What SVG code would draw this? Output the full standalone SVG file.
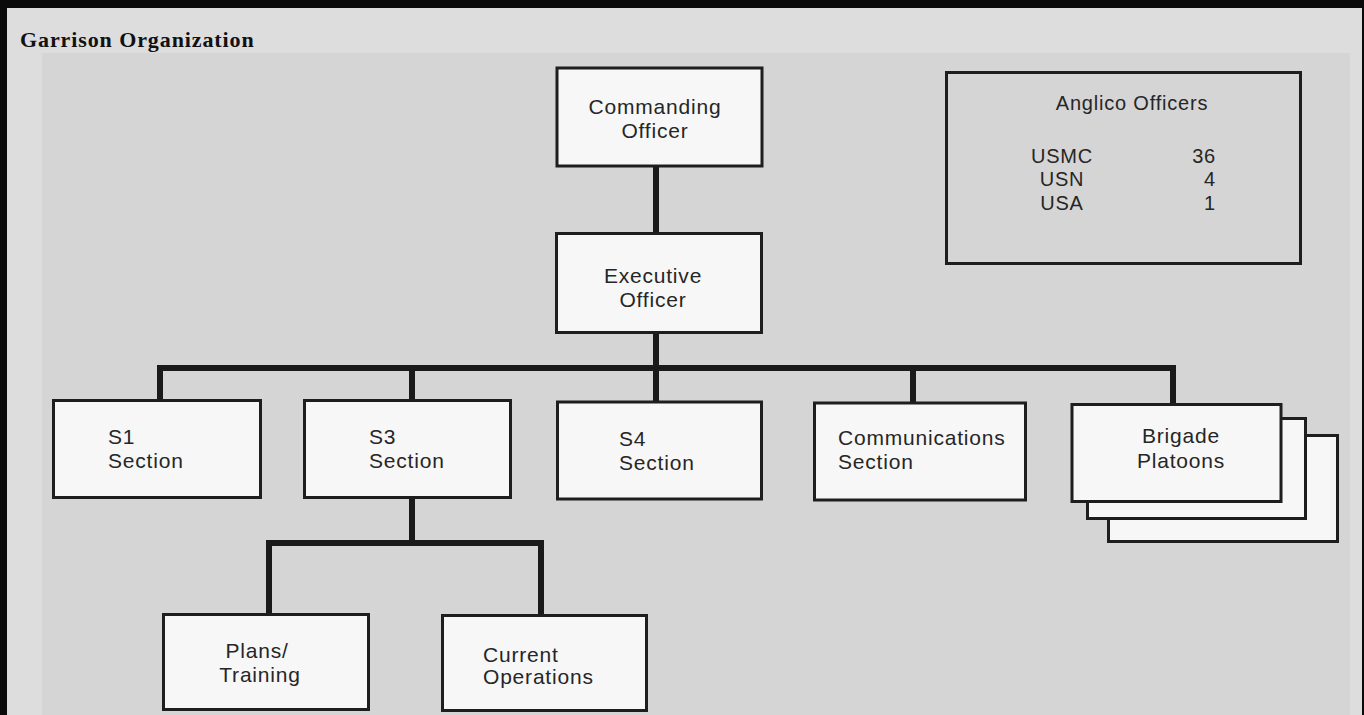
<svg xmlns="http://www.w3.org/2000/svg" width="1364" height="715" viewBox="0 0 1364 715">
  <defs>
    <style>
      .box { fill: #f7f7f7; stroke: #1e1e1e; stroke-width: 3; }
      .open { fill: none; stroke: #1e1e1e; stroke-width: 3; }
      .lbl { font-family: "Liberation Sans", Arial, Helvetica, sans-serif; font-size: 21px; letter-spacing: 0.8px; fill: #262626; }
      .sm { font-size: 20px; }
      .mid { text-anchor: middle; }
      .end { text-anchor: end; }
      .conn { fill: none; stroke: #1a1a1a; stroke-width: 6; stroke-linejoin: miter; stroke-linecap: butt; }
      .title { font-family: "Liberation Serif", "Times New Roman", serif; font-weight: bold; font-size: 22px; letter-spacing: 0.9px; fill: #111; }
    </style>
  </defs>

  <!-- page frame -->
  <rect x="0" y="0" width="1364" height="715" fill="#dddddd"/>
  <rect x="42" y="53" width="1308" height="662" fill="#d5d5d5"/>
  <rect x="0" y="0" width="1364" height="8" fill="#0a0a0a"/>
  <rect x="0" y="0" width="7" height="715" fill="#0a0a0a"/>
  <rect x="1362" y="0" width="2" height="715" fill="#0a0a0a"/>

  <text class="title" x="20" y="47">Garrison Organization</text>

  <!-- connectors -->
  <g id="connectors">
    <path class="conn" d="M656 167 V232"/>
    <path class="conn" d="M656 334 V401"/>
    <path class="conn" d="M160 399 V368 H1173 V403"/>
    <path class="conn" d="M412 368 V399"/>
    <path class="conn" d="M913 368 V402"/>
    <path class="conn" d="M412 498 V543"/>
    <path class="conn" d="M269 613 V543 H541 V614"/>
  </g>

  <g id="commanding-officer">
    <rect class="box" x="557" y="68" width="205" height="98"/>
    <text class="lbl mid" x="655" y="114">Commanding</text>
    <text class="lbl mid" x="655" y="138">Officer</text>
  </g>

  <g id="executive-officer">
    <rect class="box" x="556.5" y="233.5" width="205" height="99"/>
    <text class="lbl mid" x="653" y="283">Executive</text>
    <text class="lbl mid" x="653" y="307">Officer</text>
  </g>

  <g id="anglico-officers">
    <rect class="open" x="946.5" y="72.5" width="354" height="191"/>
    <text class="lbl sm mid" x="1132" y="110">Anglico Officers</text>
    <text class="lbl sm mid" x="1062" y="163">USMC</text>
    <text class="lbl sm mid" x="1062" y="186">USN</text>
    <text class="lbl sm mid" x="1062" y="210">USA</text>
    <text class="lbl sm end" x="1216" y="163">36</text>
    <text class="lbl sm end" x="1216" y="186">4</text>
    <text class="lbl sm end" x="1216" y="210">1</text>
  </g>

  <g id="s1-section">
    <rect class="box" x="53.5" y="400.5" width="207" height="97"/>
    <text class="lbl" x="108" y="444">S1</text>
    <text class="lbl" x="108" y="468">Section</text>
  </g>

  <g id="s3-section">
    <rect class="box" x="304.5" y="400.5" width="206" height="97"/>
    <text class="lbl" x="369" y="444">S3</text>
    <text class="lbl" x="369" y="468">Section</text>
  </g>

  <g id="s4-section">
    <rect class="box" x="557.5" y="402" width="204" height="97"/>
    <text class="lbl" x="619" y="446">S4</text>
    <text class="lbl" x="619" y="470">Section</text>
  </g>

  <g id="communications-section">
    <rect class="box" x="814.5" y="403" width="211" height="97"/>
    <text class="lbl" x="838" y="445">Communications</text>
    <text class="lbl" x="838" y="469">Section</text>
  </g>

  <g id="brigade-platoons">
    <rect class="box" x="1108.5" y="435.5" width="229" height="106"/>
    <rect class="box" x="1087.5" y="418.5" width="218" height="100"/>
    <rect class="box" x="1072" y="404.5" width="209" height="97"/>
    <text class="lbl mid" x="1181" y="443">Brigade</text>
    <text class="lbl mid" x="1181" y="468">Platoons</text>
  </g>

  <g id="plans-training">
    <rect class="box" x="163.5" y="614.5" width="205" height="95"/>
    <text class="lbl mid" x="257" y="658">Plans/</text>
    <text class="lbl mid" x="260" y="682">Training</text>
  </g>

  <g id="current-operations">
    <rect class="box" x="442.5" y="615.5" width="204" height="95"/>
    <text class="lbl" x="483" y="662">Current</text>
    <text class="lbl" x="483" y="684">Operations</text>
  </g>
</svg>
